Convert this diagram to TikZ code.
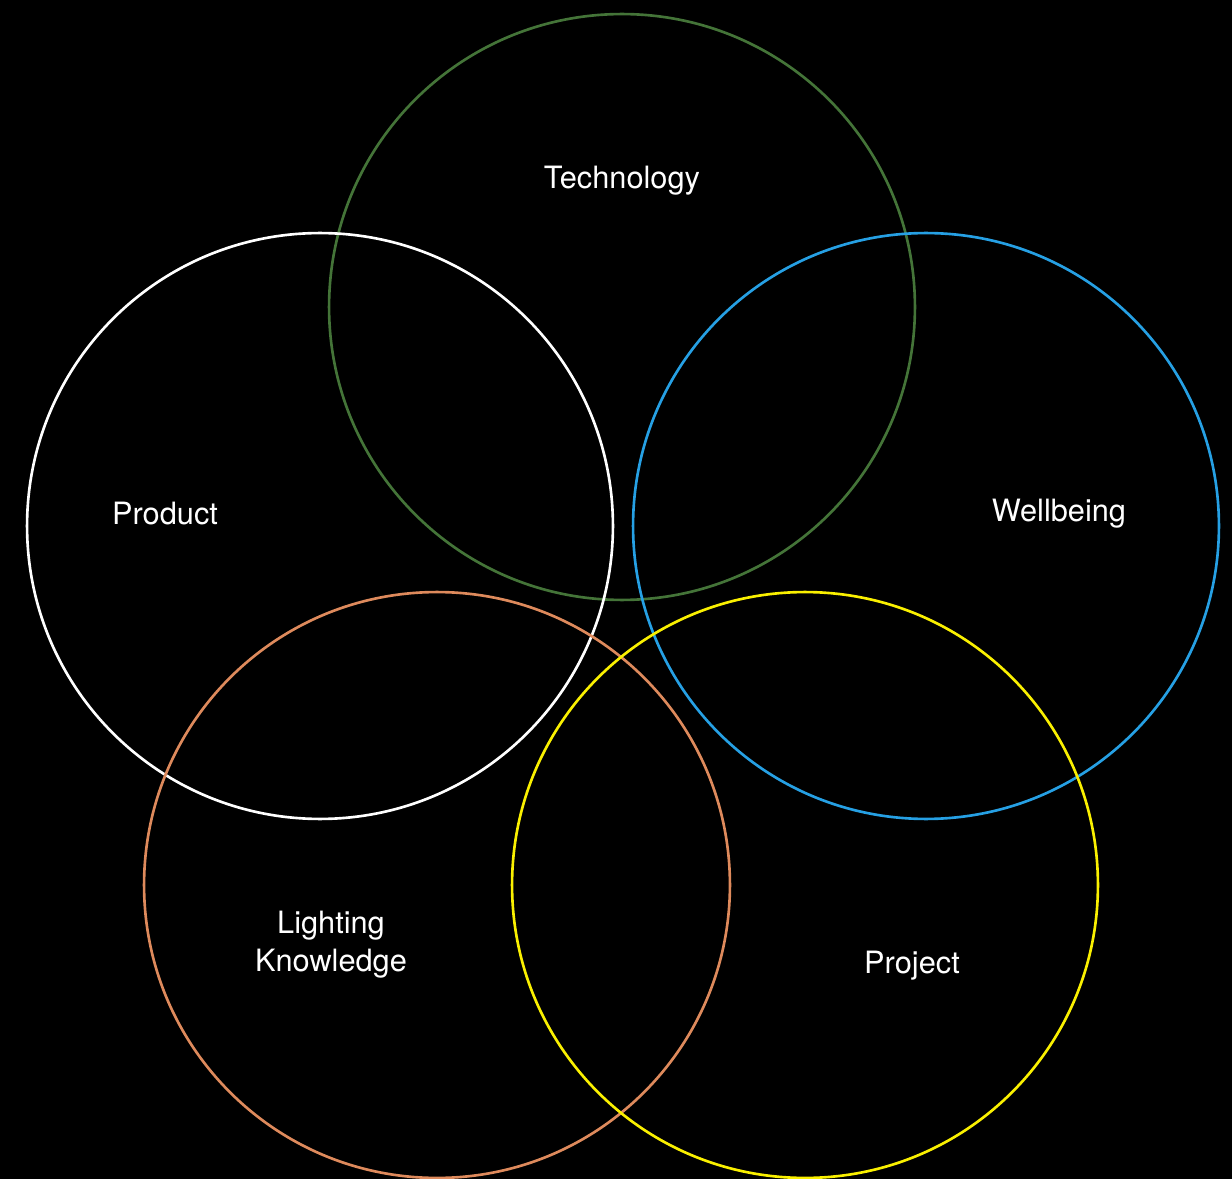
\documentclass[tikz,border=0pt]{standalone}
\usepackage{fontspec}
\setmainfont{TeX Gyre Heros}
\definecolor{cgreen}{RGB}{68,116,56}
\definecolor{cblue}{RGB}{38,160,228}
\definecolor{corange}{RGB}{222,138,92}
\definecolor{cyellow}{RGB}{250,240,0}
\begin{document}
\begin{tikzpicture}[x=0.02cm,y=-0.02cm,
  ring/.style={draw, line width=1.5pt, circle, minimum size=11.72cm, inner sep=0pt},
  lbl/.style={text=white, font=\fontsize{17.5}{21.5}\selectfont, align=center}]
\fill[black] (0,0) rectangle (1232,1179);
\useasboundingbox (0,0) rectangle (1232,1179);
\node[ring, cgreen] (tech) at (622,307) {};
\node[ring, white] (prod) at (320,526) {};
\node[ring, cblue] (well) at (926,526) {};
\node[ring, corange] (light) at (437,885) {};
\node[ring, cyellow] (proj) at (805,885) {};
\node[lbl] (ttech) at (622,181) {Technology};
\node[lbl] (tprod) at (165,514) {Product};
\node[lbl] (twell) at (1059,514) {Wellbeing};
\node[lbl] (tlight) at (331,945) {Lighting\\Knowledge};
\node[lbl] (tproj) at (912,966) {Project};
\end{tikzpicture}
\end{document}
